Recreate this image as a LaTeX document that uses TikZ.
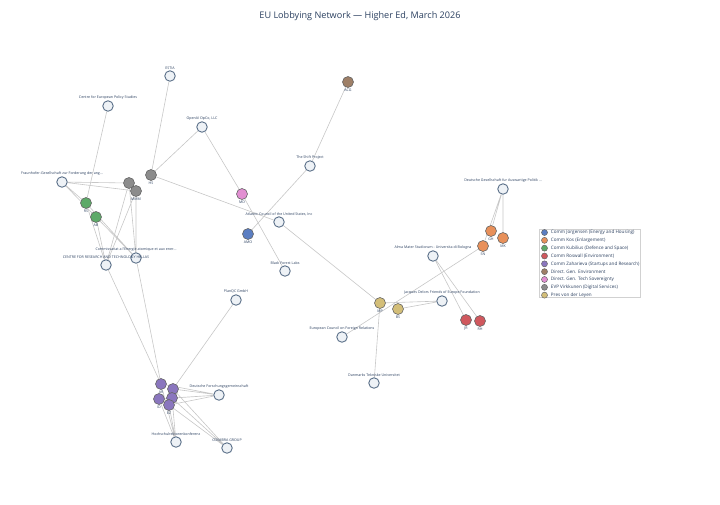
\documentclass[tikz,border=0pt]{standalone}
\usepackage{fontspec}
\setmainfont{Open Sans}
\usepackage{xcolor}
\usepackage{tikz}
\usetikzlibrary{positioning, backgrounds}
\definecolor{orgfill}{HTML}{EEF2F6}
\definecolor{orgline}{HTML}{5A6F88}
\definecolor{ink}{HTML}{2A3F5F}
\definecolor{cJor}{HTML}{5B7EC2}
\definecolor{cKos}{HTML}{E8905A}
\definecolor{cKub}{HTML}{5DAA68}
\definecolor{cRos}{HTML}{D0585E}
\definecolor{cZah}{HTML}{8A76BE}
\definecolor{cDGE}{HTML}{9E7F67}
\definecolor{cDGT}{HTML}{E28FD2}
\definecolor{cEVP}{HTML}{8C8C8C}
\definecolor{cPres}{HTML}{D3BE78}
\tikzset{
  org/.style    ={circle, draw=orgline, fill=orgfill, line width=0.9pt,
                  minimum size=10.5pt, inner sep=0pt},
  staff/.style  ={circle, draw=black!60, line width=0.6pt,
                  minimum size=11pt, inner sep=0pt},
  lbl/.style    ={font=\fontsize{3.6}{4}\selectfont, text=ink, inner sep=0.6pt},
  edge/.style   ={draw=black!22, line width=0.6pt},
  keydot/.style ={circle, draw=black!60, line width=0.5pt,
                  minimum size=6pt, inner sep=0pt},
  keytxt/.style ={font=\fontsize{4.6}{5}\selectfont, text=ink, inner sep=0pt}
}
\begin{document}
\begin{tikzpicture}[x=1pt, y=-1pt]
\useasboundingbox (0,0) rectangle (720,504);
\node[font=\fontsize{9.1}{11}\selectfont, text=ink] (title) at (360,16)
      {EU Lobbying Network — Higher Ed, March 2026};

% organisations
\node[org, label={[lbl]above:ESTIA}] (estia) at (170,76) {};
\node[org, label={[lbl]above:Centre for European Policy Studies}] (ceps) at (108,106) {};
\node[org, label={[lbl]above:{OpenAI OpCo, LLC}}] (openai) at (202,127) {};
\node[org, label={[lbl]above:Fraunhofer-Gesellschaft zur Forderung der ang...}] (fraun) at (62,182) {};
\node[org, label={[lbl]above:{Atlantic Council of the United States, Inc}}] (atlc) at (279,222) {};
\node[org, label={[lbl]above:Commissariat a l'Energie atomique et aux ener...}] (cea) at (136,258) {};
\node[org, label={[lbl]above:CENTRE FOR RESEARCH AND TECHNOLOGY HELLAS}] (certh) at (106,265) {};
\node[org, label={[lbl]above:Black Forest Labs}] (bfl) at (285,271) {};
\node[org, label={[lbl]above:The Shift Project}] (shift) at (310,166) {};
\node[org, label={[lbl]above:Deutsche Gesellschaft fur Auswartige Politik ...}] (dgap) at (503,189) {};
\node[org, label={[lbl]above:Alma Mater Studiorum - Universita di Bologna}] (alma) at (433,256) {};
\node[org, label={[lbl]above:Jacques Delors Friends of Europe Foundation}] (jdf) at (442,301) {};
\node[org, label={[lbl]above:European Council on Foreign Relations}] (ecfr) at (342,337) {};
\node[org, label={[lbl]above:Danmarks Tekniske Universitet}] (dtu) at (374,383) {};
\node[org, label={[lbl]above:PlanQC GmbH}] (planqc) at (236,300) {};
\node[org, label={[lbl]above:Deutsche Forschungsgemeinschaft}] (dfg) at (219,395) {};
\node[org, label={[lbl]above:Hochschulrektorenkonferenz}] (hrk) at (176,442) {};
\node[org, label={[lbl]above:COIMBRA GROUP}] (coimbra) at (227,448) {};

% staff
\node[staff, fill=cEVP, label={[lbl]below:HS}] (hs) at (151,175) {};
\node[staff, fill=cEVP] (evpb) at (129,183) {};
\node[staff, fill=cEVP, label={[lbl]below:MMM}] (mmm) at (136,191) {};
\node[staff, fill=cDGT, label={[lbl]below:MD}] (md) at (242,194) {};
\node[staff, fill=cKub, label={[lbl]below:RS}] (rs) at (86,203) {};
\node[staff, fill=cKub, label={[lbl]below:AB}] (ab) at (96,217) {};
\node[staff, fill=cJor, label={[lbl]below:AMO}] (amo) at (248,234) {};
\node[staff, fill=cDGE, label={[lbl]below:ACG}] (acg) at (348,82) {};
\node[staff, fill=cKos, label={[lbl]below:GH}] (gh) at (491,231) {};
\node[staff, fill=cKos, label={[lbl]below:MK}] (mk) at (503,238) {};
\node[staff, fill=cKos, label={[lbl]below:SN}] (sn) at (483,246) {};
\node[staff, fill=cPres, label={[lbl]below:MP}] (mp) at (380,303) {};
\node[staff, fill=cPres, label={[lbl]below:BS}] (bs) at (398,309) {};
\node[staff, fill=cRos, label={[lbl]below:JR}] (jr) at (466,320) {};
\node[staff, fill=cRos, label={[lbl]below:RH}] (rh) at (480,321) {};
\node[staff, fill=cZah, label={[lbl]below:AR}] (ar) at (161,384) {};
\node[staff, fill=cZah] (zb) at (173,389) {};
\node[staff, fill=cZah, label={[lbl]below:ID}] (id) at (159,399) {};
\node[staff, fill=cZah] (zc) at (172,398) {};
\node[staff, fill=cZah, label={[lbl]below:EZ}] (ez) at (169,405) {};

\begin{scope}[on background layer]
\draw[edge] (estia) -- (hs) (openai) -- (hs) (openai) -- (md) (hs) -- (atlc);
\draw[edge] (fraun) -- (evpb) (fraun) -- (mmm) (fraun) -- (rs) (fraun) -- (ab);
\draw[edge] (ceps) -- (rs) (rs) -- (certh) (ab) -- (certh) (rs) -- (cea) (ab) -- (cea);
\draw[edge] (evpb) -- (certh) (evpb) -- (cea) (mmm) -- (certh) (mmm) -- (cea);
\draw[edge] (certh) -- (ar) (cea) -- (ar) (planqc) -- (zb);
\draw[edge] (acg) -- (shift) (shift) -- (amo) (md) -- (bfl) (atlc) -- (mp);
\draw[edge] (mp) -- (jdf) (bs) -- (jdf) (mp) -- (dtu) (ecfr) -- (sn);
\draw[edge] (alma) -- (jr) (alma) -- (rh) (dgap) -- (gh) (dgap) -- (mk) (dgap) -- (sn);
\draw[edge] (ar) -- (dfg) (zb) -- (dfg) (zc) -- (dfg) (id) -- (dfg) (ez) -- (dfg);
\draw[edge] (ar) -- (hrk) (id) -- (hrk) (zc) -- (hrk) (ez) -- (hrk);
\draw[edge] (zb) -- (coimbra) (zc) -- (coimbra) (ez) -- (coimbra);
\end{scope}

% legend
\node[draw=black!18, fill=white, line width=0.5pt, minimum width=101pt,
      minimum height=68pt, inner sep=0pt] (legend) at (590,263) {};
\node[keydot, fill=cJor] (k1) at (544.5,232.5) {};
\node[keydot, fill=cKos, below=1.33pt of k1] (k2) {};
\node[keydot, fill=cKub, below=1.33pt of k2] (k3) {};
\node[keydot, fill=cRos, below=1.33pt of k3] (k4) {};
\node[keydot, fill=cZah, below=1.33pt of k4] (k5) {};
\node[keydot, fill=cDGE, below=1.33pt of k5] (k6) {};
\node[keydot, fill=cDGT, below=1.33pt of k6] (k7) {};
\node[keydot, fill=cEVP, below=1.33pt of k7] (k8) {};
\node[keydot, fill=cPres, below=1.33pt of k8] (k9) {};
\node[keytxt, right=3pt of k1] {Comm Jorgensen (Energy and Housing)};
\node[keytxt, right=3pt of k2] {Comm Kos (Enlargement)};
\node[keytxt, right=3pt of k3] {Comm Kubilius (Defence and Space)};
\node[keytxt, right=3pt of k4] {Comm Roswall (Environment)};
\node[keytxt, right=3pt of k5] {Comm Zaharieva (Startups and Research)};
\node[keytxt, right=3pt of k6] {Direct. Gen. Environment};
\node[keytxt, right=3pt of k7] {Direct. Gen. Tech Sovereignty};
\node[keytxt, right=3pt of k8] {EVP Virkkunen (Digital Services)};
\node[keytxt, right=3pt of k9] {Pres von der Leyen};
\end{tikzpicture}
\end{document}
